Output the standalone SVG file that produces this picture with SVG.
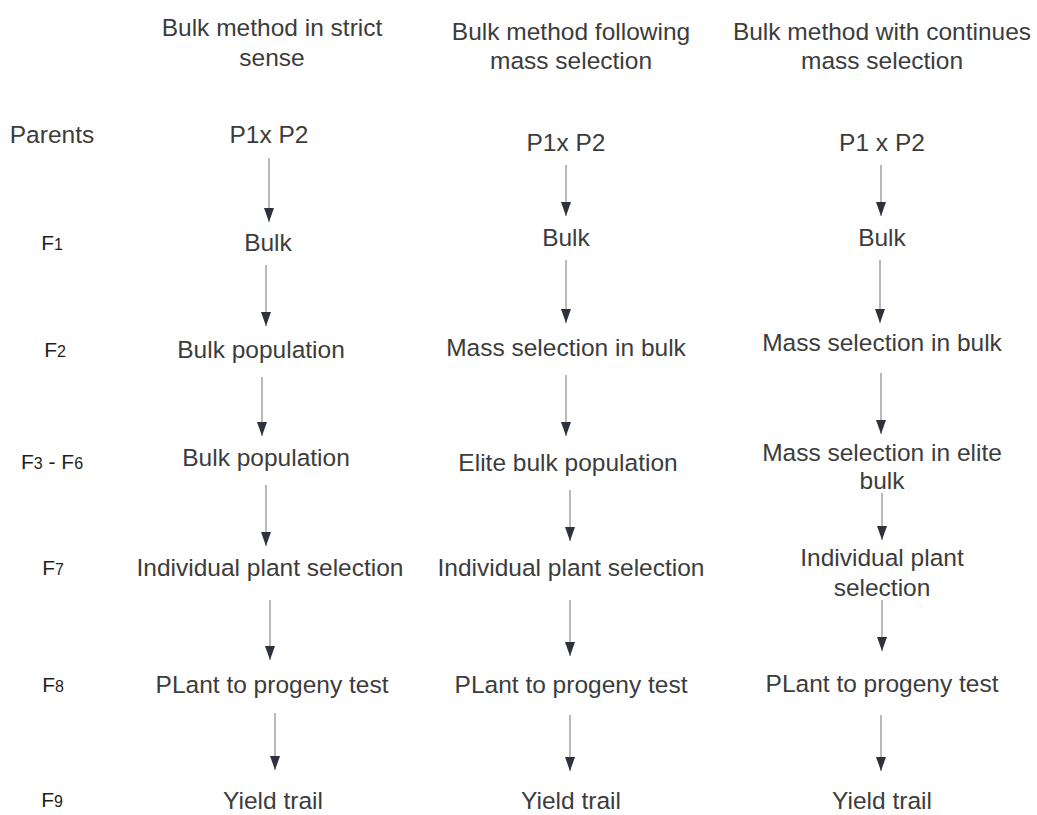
<svg xmlns="http://www.w3.org/2000/svg" width="1037" height="815" viewBox="0 0 1037 815">
<defs>
<marker id="ah" viewBox="0 0 14 10" refX="14" refY="5" markerWidth="14" markerHeight="10" markerUnits="userSpaceOnUse" orient="auto">
<path d="M0,0 L14,5 L0,10 z" fill="#2e323c"/>
</marker>
<style>
.t{font-family:"Liberation Sans",Arial,sans-serif;font-size:24.5px;fill:#3c3c3c;text-anchor:middle}
.h{font-family:"Liberation Sans",Arial,sans-serif;font-size:24.5px;fill:#3c3c3c;text-anchor:middle}
.g{font-family:"Liberation Sans",Arial,sans-serif;font-size:21px;fill:#1e1e1e;text-anchor:middle}
.g tspan{font-size:16px}
.c line{stroke:#8a8a8a;stroke-width:1.2;marker-end:url(#ah)}
</style>
</defs>
<rect width="1037" height="815" fill="#ffffff"/>
<g id="headers">
<text class="h" x="272" y="36">Bulk method in strict</text>
<text class="h" x="272" y="66">sense</text>
<text class="h" x="571" y="40">Bulk method following</text>
<text class="h" x="571" y="69">mass selection</text>
<text class="h" x="882" y="40">Bulk method with continues</text>
<text class="h" x="882" y="69">mass selection</text>
</g>
<g id="gen-labels">
<text class="h" x="52" y="143">Parents</text>
<text class="g" x="52" y="250">F<tspan>1</tspan></text>
<text class="g" x="55" y="357">F<tspan>2</tspan></text>
<text class="g" x="52" y="469">F<tspan>3</tspan> - F<tspan>6</tspan></text>
<text class="g" x="53" y="575">F<tspan>7</tspan></text>
<text class="g" x="53" y="692">F<tspan>8</tspan></text>
<text class="g" x="52" y="807">F<tspan>9</tspan></text>
</g>
<g id="col1">
<g id="c1-parents"><text class="t" x="269" y="143">P1x P2</text></g>
<g id="c1-f1"><text class="t" x="268" y="251">Bulk</text></g>
<g id="c1-f2"><text class="t" x="261" y="358">Bulk population</text></g>
<g id="c1-f3"><text class="t" x="266" y="466">Bulk population</text></g>
<g id="c1-f7"><text class="t" x="270" y="576">Individual plant selection</text></g>
<g id="c1-f8"><text class="t" x="272" y="693">PLant to progeny test</text></g>
<g id="c1-f9"><text class="t" x="273" y="809">Yield trail</text></g>
</g>
<g id="col2">
<g id="c2-parents"><text class="t" x="566" y="151">P1x P2</text></g>
<g id="c2-f1"><text class="t" x="566" y="246">Bulk</text></g>
<g id="c2-f2"><text class="t" x="566" y="356">Mass selection in bulk</text></g>
<g id="c2-f3"><text class="t" x="568" y="471">Elite bulk population</text></g>
<g id="c2-f7"><text class="t" x="571" y="576">Individual plant selection</text></g>
<g id="c2-f8"><text class="t" x="571" y="693">PLant to progeny test</text></g>
<g id="c2-f9"><text class="t" x="571" y="809">Yield trail</text></g>
</g>
<g id="col3">
<g id="c3-parents"><text class="t" x="882" y="151">P1 x P2</text></g>
<g id="c3-f1"><text class="t" x="882" y="246">Bulk</text></g>
<g id="c3-f2"><text class="t" x="882" y="351">Mass selection in bulk</text></g>
<g id="c3-f3"><text class="t" x="882" y="461">Mass selection in elite</text><text class="t" x="882" y="489">bulk</text></g>
<g id="c3-f7"><text class="t" x="882" y="566">Individual plant</text><text class="t" x="882" y="596">selection</text></g>
<g id="c3-f8"><text class="t" x="882" y="692">PLant to progeny test</text></g>
<g id="c3-f9"><text class="t" x="882" y="809">Yield trail</text></g>
</g>
<g id="connectors" class="c">
<line x1="269" y1="158" x2="269" y2="222"/>
<line x1="266" y1="265" x2="266" y2="326"/>
<line x1="262" y1="377" x2="262" y2="436"/>
<line x1="266" y1="485" x2="266" y2="546"/>
<line x1="270" y1="600" x2="270" y2="660"/>
<line x1="275" y1="713" x2="275" y2="770"/>
<line x1="566" y1="165" x2="566" y2="216"/>
<line x1="566" y1="260" x2="566" y2="323"/>
<line x1="566" y1="375" x2="566" y2="436"/>
<line x1="570" y1="490" x2="570" y2="541"/>
<line x1="570" y1="600" x2="570" y2="656"/>
<line x1="570" y1="715" x2="570" y2="771"/>
<line x1="881" y1="165" x2="881" y2="216"/>
<line x1="880" y1="260" x2="880" y2="323"/>
<line x1="881" y1="373" x2="881" y2="434"/>
<line x1="882" y1="493" x2="882" y2="540"/>
<line x1="882" y1="600" x2="882" y2="651"/>
<line x1="881" y1="715" x2="881" y2="771"/>
</g>
</svg>
